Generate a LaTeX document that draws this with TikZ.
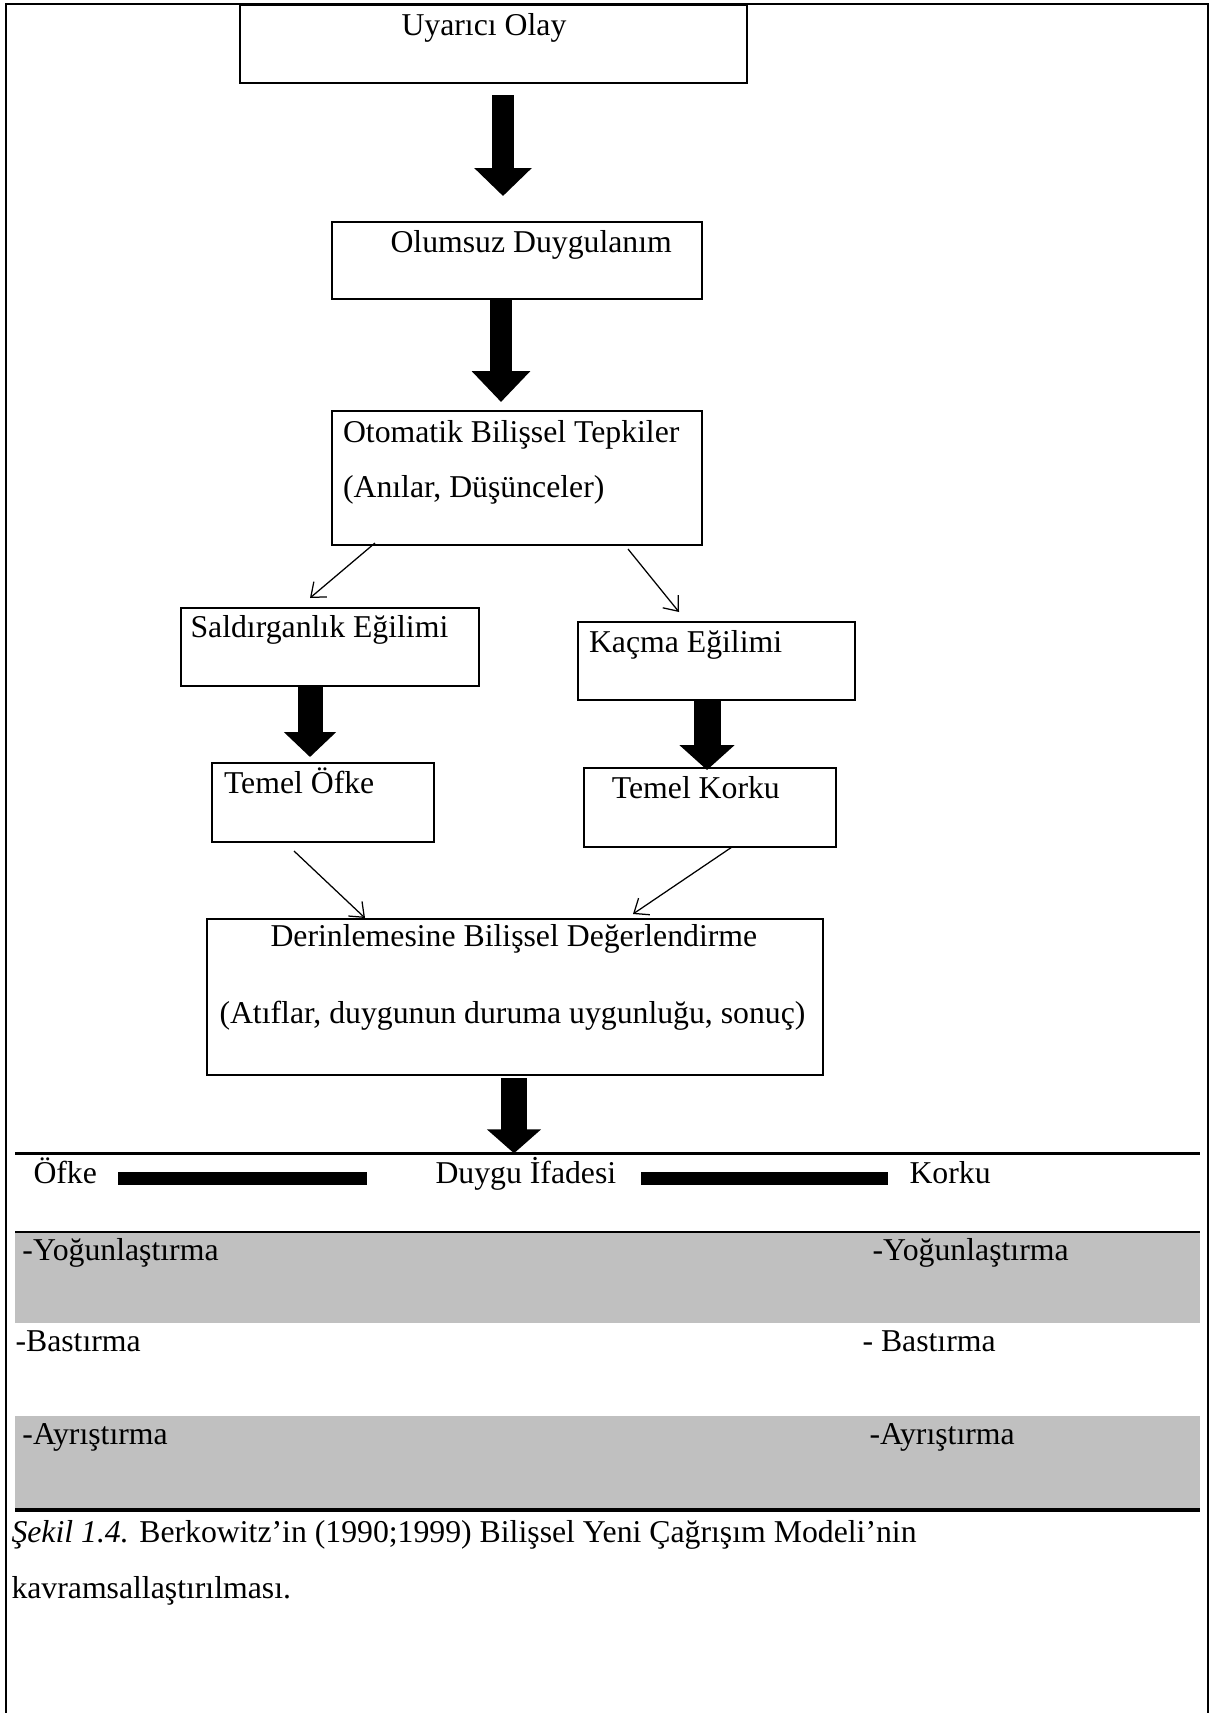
\documentclass[tikz,border=0pt]{standalone}
\usepackage{fontspec}
\setmainfont{Liberation Serif}
\usetikzlibrary{arrows.meta,calc,fit}
\definecolor{bandgray}{RGB}{192,192,192}
\tikzset{
  box/.style={draw, line width=0.8pt, inner sep=0pt, rectangle},
  txt/.style={inner sep=0pt, anchor=base west, font=\fontsize{12.7pt}{15pt}\selectfont},
  blkarrow/.style n args={3}{line width=#1, -{Triangle[width=#2,length=#3]}},
  thinarrow/.style={line width=0.5pt, -{Straight Barb[length=5pt,width=8pt]}},
  hrule/.style={line width=#1},
  barline/.style={line width=5.3pt},
}
\begin{document}
\begin{tikzpicture}[x=0.4pt,y=-0.4pt]
\useasboundingbox (0,0) rectangle (1217,1713);
% outer frame
\draw[line width=0.8pt] (6,1713) -- (6,4) -- (1208,4) -- (1208,1713);

% boxes
\node[box, fit={(240,5) (747,83)}] (b1) {};
\node[box, fit={(332,222) (702,299)}] (b2) {};
\node[box, fit={(332,411) (702,545)}] (b3) {};
\node[box, fit={(181,608) (479,686)}] (b4) {};
\node[box, fit={(578,622) (855,700)}] (b5) {};
\node[box, fit={(212,763) (434,842)}] (b6) {};
\node[box, fit={(584,768) (836,847)}] (b7) {};
\node[box, fit={(207,919) (823,1075)}] (b8) {};

% box texts
\node[txt] (t1) at (401,35) {Uyarıcı Olay};
\node[txt] (t2) at (390,252) {Olumsuz Duygulanım};
\node[txt] (t3a) at (342.5,442) {Otomatik Bilişsel Tepkiler};
\node[txt] (t3b) at (342.5,497) {(Anılar, Düşünceler)};
\node[txt] (t4) at (190,637) {Saldırganlık Eğilimi};
\node[txt] (t5) at (588.5,652) {Kaçma Eğilimi};
\node[txt] (t6) at (223.5,793) {Temel Öfke};
\node[txt] (t7) at (611.4,798) {Temel Korku};
\node[txt] (t8a) at (270,946) {Derinlemesine Bilişsel Değerlendirme};
\node[txt] (t8b) at (219,1023) {(Atıflar, duygunun duruma uygunluğu, sonuç)};

% block arrows
\draw[blkarrow={8.8pt}{22.4pt}{11.2pt}] ($(b1.south)+(9.5,11)$) -- ($(b2.north)+(-14,-25)$);
\draw[blkarrow={8.6pt}{22.8pt}{12.4pt}] ($(b2.south)+(-16,0)$) -- ($(b3.north)+(-16,-8)$);
\draw[blkarrow={10pt}{20.4pt}{10pt}] ($(b4.south)+(-20,0)$) -- ($(b6.north)+(-13,-5)$);
\draw[blkarrow={10.8pt}{21.6pt}{10pt}] ($(b5.south)+(-9.5,0)$) -- ($(b7.north)+(-3,3)$);

% thin arrows
\draw[thinarrow] ($(b3.south west)+(44,-3)$) -- ($(b4.north west)+(130,-9)$);
\draw[thinarrow] ($(b3.south west)+(297,3)$) -- ($(b5.north west)+(102,-9)$);
\draw[thinarrow] ($(b6.south west)+(83,8)$) -- ($(b8.north west)+(159,0)$);
\draw[thinarrow] ($(b7.south west)+(149,-1)$) -- ($(b8.north west)+(427,-4)$);

% table part
\coordinate (r1) at (15,1153.3);
\coordinate (r1e) at (1200,1153.3);
\coordinate (r2) at (15,1231.7);
\coordinate (r2e) at (1200,1231.7);
\coordinate (r3) at (15,1510);
\coordinate (r3e) at (1200,1510);

\fill[bandgray] (15,1231.7) rectangle (1200,1322.7);
\fill[bandgray] (15,1416) rectangle (1200,1509);

\draw[hrule=1pt] (r1) -- (r1e);
\draw[hrule=0.9pt] (r2) -- (r2e);
\draw[hrule=1.3pt] (r3) -- (r3e);

\draw[blkarrow={10.4pt}{21.2pt}{9.6pt}] ($(b8.south)+(-1,2)$) -- ($(b8.south |- r1)+(-1,0)$);

\node[txt] (ofke) at (33,1183) {Öfke};
\node[txt] (duygu) at (435,1183) {Duygu İfadesi};
\node[txt] (korku) at (909,1183) {Korku};
\draw[barline] ($(ofke.base west)+(85,-4.6)$) -- ($(duygu.base west)+(-68.5,-4.6)$);
\draw[barline] ($(duygu.base west)+(206,-4.6)$) -- ($(korku.base west)+(-21,-4.6)$);

\node[txt] (y1) at (22,1260) {-Yoğunlaştırma};
\node[txt] (y2) at (872,1260) {-Yoğunlaştırma};
\node[txt] (bs1) at (15,1351) {-Bastırma};
\node[txt] (bs2) at (862,1351) {- Bastırma};
\node[txt] (a1) at (22,1444) {-Ayrıştırma};
\node[txt] (a2) at (869,1444) {-Ayrıştırma};

% caption
\node[txt] (cap1) at (11,1542) {\textit{Şekil 1.4.} Berkowitz’in (1990;1999) Bilişsel Yeni Çağrışım Modeli’nin};
\node[txt] (cap2) at (11,1598) {kavramsallaştırılması.};
\end{tikzpicture}
\end{document}
